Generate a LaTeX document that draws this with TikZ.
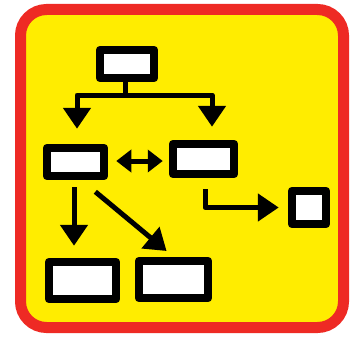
\documentclass[tikz,border=0pt]{standalone}
\usetikzlibrary{arrows.meta,calc}
\definecolor{frame}{HTML}{EE2A24}
\definecolor{bg}{HTML}{FFED00}
\begin{document}
\begin{tikzpicture}[x=1pt,y=-1pt,
  box/.style={draw=black,fill=white,line width=8.5pt,inner sep=0pt,line join=round},
  link/.style={draw=black,line width=5pt,line join=round},
  arr/.style={link,-{Triangle[length=21pt,width=27pt]}},
  darr/.style={link,{Triangle[length=15pt,width=22pt]}-{Triangle[length=15pt,width=22pt]}}]
\useasboundingbox (0,0) rectangle (358,337);
\draw[frame,fill=bg,line width=11pt,rounded corners=26pt] (20.5,9.5) rectangle (343.5,327.5);
\node[box,minimum width=54pt,minimum height=28pt] (top) at (127,64) {};
\node[box,minimum width=57pt,minimum height=28pt] (ml) at (75.5,162) {};
\node[box,minimum width=61pt,minimum height=30pt] (mr) at (203.5,159) {};
\node[box,minimum width=34pt,minimum height=33pt] (sq) at (309,207.5) {};
\node[box,minimum width=67pt,minimum height=37pt] (bl) at (82.5,280.5) {};
\node[box,minimum width=69pt,minimum height=37pt] (bm) at (173.5,279.5) {};
\coordinate (j) at (125,95);
\draw[link] ([xshift=-2pt]top.south) -- (j);
\draw[arr,shorten >=15pt] (j) -| ([xshift=1.5pt]ml.north);
\draw[arr,shorten >=13pt] (j) -| ([xshift=8.5pt]mr.north);
\draw[darr,shorten <=8pt,shorten >=6pt] ([yshift=1pt]ml.east) -- ([yshift=1pt]ml.east -| mr.west);
\draw[arr,shorten <=11pt,shorten >=9pt] ([xshift=1.5pt]mr.south) |- (sq.west);
\draw[arr,shorten <=7pt,shorten >=12pt] ([xshift=-1.5pt]ml.south) -- ([xshift=-1.5pt]ml.south |- bl.north);
\draw[arr,shorten <=18pt,shorten >=9pt] ([xshift=6pt]ml.south) -- (bm.north);
\end{tikzpicture}
\end{document}
